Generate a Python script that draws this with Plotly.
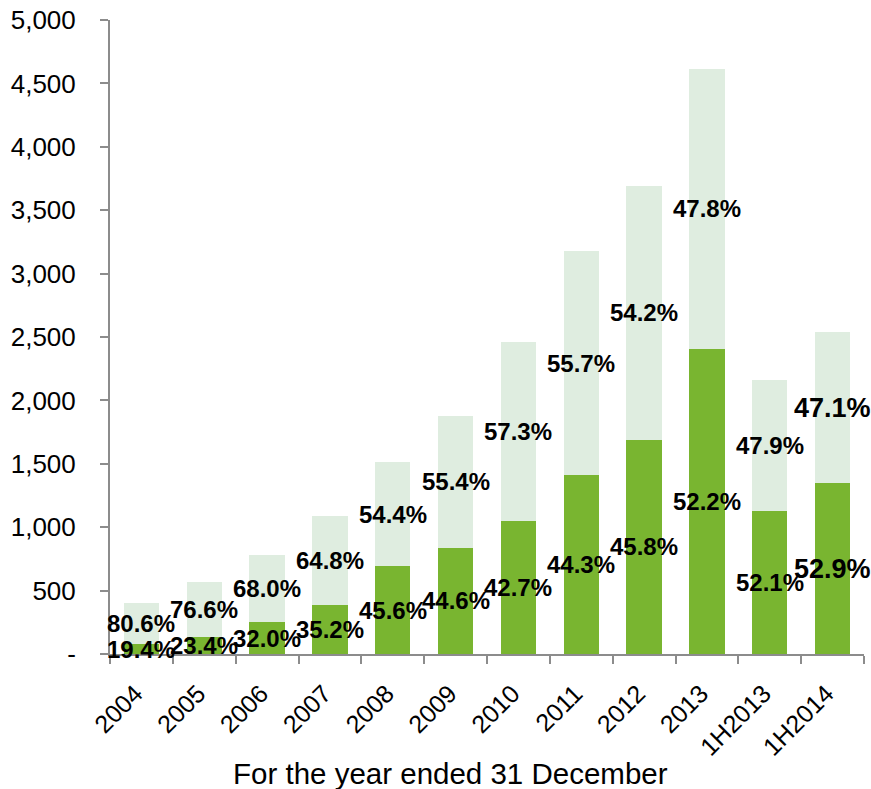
import plotly.graph_objects as go

categories = ["2004", "2005", "2006", "2007", "2008", "2009", "2010", "2011",
              "2012", "2013", "1H2013", "1H2014"]
totals = [405, 568, 783, 1091, 1514, 1877, 2460, 3178, 3691, 4613, 2161, 2542]
dark_share = [19.4, 23.4, 32.0, 35.2, 45.6, 44.6, 42.7, 44.3, 45.8, 52.2, 52.1, 52.9]
light_share = [80.6, 76.6, 68.0, 64.8, 54.4, 55.4, 57.3, 55.7, 54.2, 47.8, 47.9, 47.1]
y_tickvals = [0, 500, 1000, 1500, 2000, 2500, 3000, 3500, 4000, 4500, 5000]
y_ticktext = ["-", "500", "1,000", "1,500", "2,000", "2,500", "3,000", "3,500",
              "4,000", "4,500", "5,000"]
x_title = "For the year ended 31 December"

dark_vals = [t * s / 100 for t, s in zip(totals, dark_share)]
light_vals = [t - d for t, d in zip(totals, dark_vals)]

label_sizes = [24] * 11 + [27]

DARK = "#79B530"
LIGHT = "#DFEDE0"
AXIS = "#8C8C8C"
FONT = "Liberation Sans, Arial, sans-serif"

L, T, R, B = 110, 20, 7, 135

fig = go.Figure()
fig.add_trace(go.Bar(
    x=categories, y=dark_vals, marker=dict(color=DARK, line=dict(width=0)),
    showlegend=False,
))
fig.add_trace(go.Bar(
    x=categories, y=light_vals, marker=dict(color=LIGHT, line=dict(width=0)),
    showlegend=False,
))

annotations = []
for i, (d, l, ds, ls, fs) in enumerate(zip(dark_vals, light_vals,
                                           dark_share, light_share, label_sizes)):
    annotations.append(dict(
        x=i, y=d / 2, xref="x", yref="y", text=f"<b>{ds:.1f}%</b>",
        showarrow=False, xanchor="center", yanchor="middle",
        font=dict(size=fs, family=FONT, color="black"),
    ))
    annotations.append(dict(
        x=i, y=d + l / 2, xref="x", yref="y", text=f"<b>{ls:.1f}%</b>",
        showarrow=False, xanchor="center", yanchor="middle",
        font=dict(size=fs, family=FONT, color="black"),
    ))
annotations.append(dict(
    text=x_title, xref="paper", yref="paper", x=(450 - 110) / 754,
    y=(654 - 773) / 634, xanchor="center", yanchor="middle",
    showarrow=False, font=dict(size=29.5, family=FONT, color="black"),
))

fig.update_layout(
    width=871, height=789,
    margin=dict(l=L, r=R, t=T, b=B, autoexpand=False),
    barmode="stack", bargap=0.44,
    plot_bgcolor="white", paper_bgcolor="white",
    font=dict(family=FONT, color="black"),
    xaxis=dict(
        type="category", showgrid=False, showline=True, linecolor=AXIS, linewidth=2,
        ticks="outside", tickson="boundaries", ticklen=8, tickcolor=AXIS, tickwidth=2,
        tickangle=-45, tickfont=dict(size=25, family=FONT, color="black"),
        ticklabelstandoff=13, ticklabelshift=-6, automargin=False,
        ticklabeloverflow="allow", range=[-0.5, len(categories) - 0.5],
    ),
    yaxis=dict(
        range=[0, 5000], tickvals=y_tickvals, ticktext=y_ticktext,
        showgrid=False, showline=True, linecolor=AXIS, linewidth=2,
        ticks="outside", ticklen=8, tickcolor=AXIS, tickwidth=2,
        tickfont=dict(size=26, family=FONT, color="black"),
        ticklabelstandoff=19, zeroline=False, automargin=False,
        ticklabeloverflow="allow",
    ),
    annotations=annotations,
)

fig.write_html("out.html", config={"displayModeBar": False},
               post_script="document.body.style.margin='0px';")
